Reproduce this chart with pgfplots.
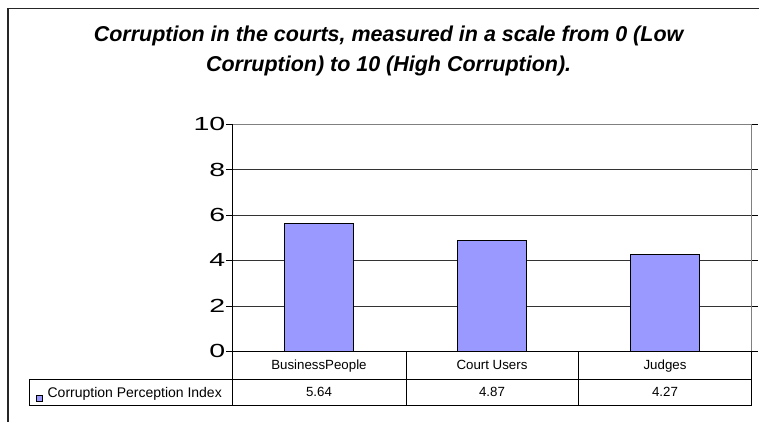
\documentclass[border=0pt]{standalone}
\usepackage{fontspec}
\setmainfont{Liberation Sans}
\newfontfamily\tickfont[FakeStretch=1.5]{Liberation Sans}
\usepackage{pgfplots}
\pgfplotsset{compat=1.18}
\definecolor{barblue}{HTML}{9999FF}
\begin{document}
\begin{tikzpicture}[x=1pt,y=1pt]
\path[fill=white] (0,0) rectangle (760,-422);
\draw[line width=1.6pt, black!85] (8,-422) -- (8,-8.5) -- (760,-8.5);
\node[align=center, font=\fontsize{21.5}{29.5}\selectfont\bfseries\itshape] at (389,-51) {Corruption in the courts, measured in a scale from 0 (Low\\Corruption) to 10 (High Corruption).};
\begin{axis}[at={(232.7pt,-351.7pt)}, anchor=south west, scale only axis,
  width=519.6pt, height=227.4pt,
  xmin=-0.5, xmax=2.5, ymin=0, ymax=10, ytick={0,2,...,10}, xtick=\empty,
  axis line style={draw=none}, ymajorgrids, grid style={black!80, line width=0.6pt},
  tick align=outside, major tick length=6pt, tick style={black, line width=0.6pt},
  yticklabel style={font=\tickfont\fontsize{19}{19}\selectfont, inner sep=1pt},
  /pgf/number format/assume math mode=true,
  clip=false]
\addplot[ybar, bar width=69.3pt, fill=barblue, draw=black, line width=1.3pt] coordinates {(0,5.64) (1,4.87) (2,4.27)};
\draw[gray, line width=1pt] (rel axis cs:0,1) -- (rel axis cs:1,1) -- (rel axis cs:1,0);
\draw[black, line width=1pt] (rel axis cs:0,0) -- (rel axis cs:0,1);
\node[anchor=base, font=\fontsize{13.3}{13.3}\selectfont] at (axis cs:0,0) [yshift=-18.5pt] {BusinessPeople};
\node[anchor=base, font=\fontsize{13.3}{13.3}\selectfont] at (axis cs:1,0) [yshift=-18.5pt] {Court Users};
\node[anchor=base, font=\fontsize{13.3}{13.3}\selectfont] at (axis cs:2,0) [yshift=-18.5pt] {Judges};
\node[anchor=base, font=\fontsize{13.3}{13.3}\selectfont] at (axis cs:0,0) [yshift=-45.5pt] {5.64};
\node[anchor=base, font=\fontsize{13.3}{13.3}\selectfont] at (axis cs:1,0) [yshift=-45.5pt] {4.87};
\node[anchor=base, font=\fontsize{13.3}{13.3}\selectfont] at (axis cs:2,0) [yshift=-45.5pt] {4.27};
\end{axis}
% data table grid
\draw[black, line width=1.2pt] (232.7,-351.7) -- (752.3,-351.7);
\draw[black, line width=0.9pt] (29,-380) -- (752.3,-380);
\draw[black, line width=0.9pt] (29,-405.5) -- (752.3,-405.5);
\draw[black, line width=0.9pt] (29,-380) -- (29,-405.5);
\foreach \xx in {232.7,406.7,579.3,752.3} {\draw[black, line width=0.9pt] (\xx,-351.7) -- (\xx,-405.5);}
\draw[fill=barblue, draw=black, line width=0.8pt] (36,-395.5) rectangle (42.5,-402);
\node[anchor=base west, inner sep=0pt, font=\fontsize{14}{14}\selectfont] at (47.5,-397.5) {Corruption Perception Index};
\end{tikzpicture}
\end{document}
